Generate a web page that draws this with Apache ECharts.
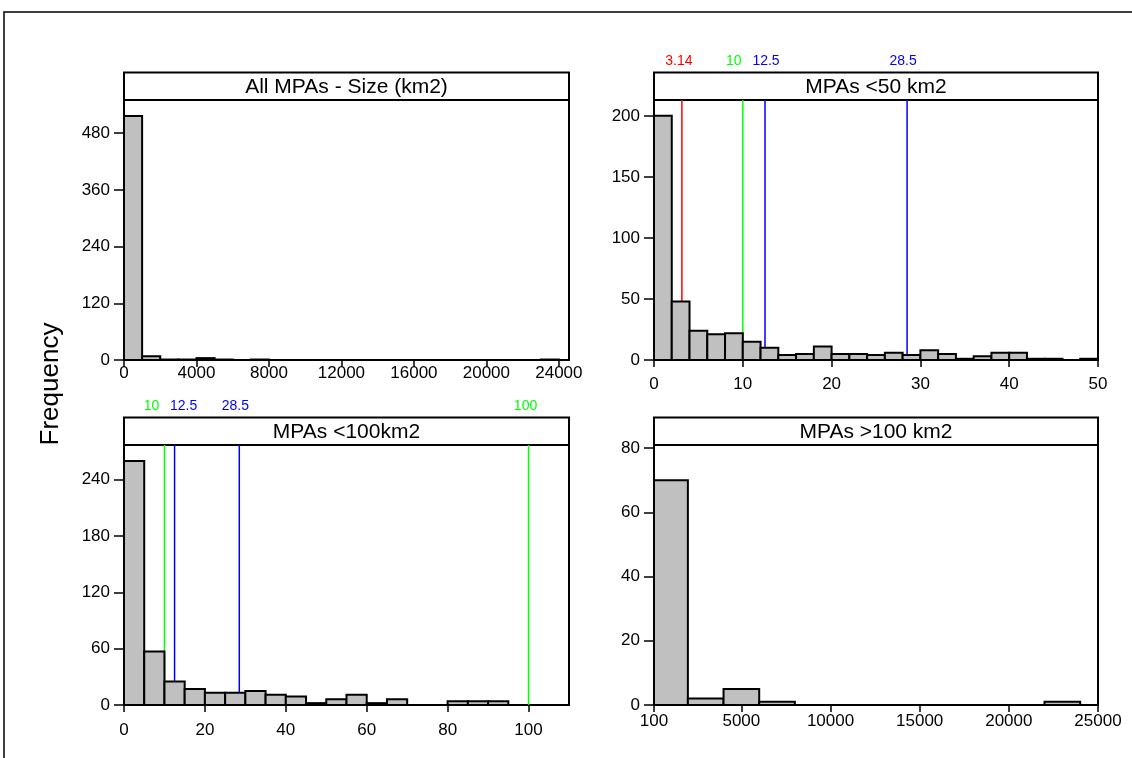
<!DOCTYPE html>
<html>
<head>
<meta charset="utf-8">
<title>MPA size histograms</title>
<script src="https://cdn.jsdelivr.net/npm/echarts@6/dist/echarts.min.js"></script>
<style>
  html, body { margin: 0; padding: 0; background: #fff; }
  #main { width: 1132px; height: 758px; }
</style>
</head>
<body>
<div id="main"></div>
<script>
// ---- data ----
// all MPAs, 1000 km2 bins starting at 0
var allBinWidth = 1000;
var allCounts = [516, 8, 1, 1, 4, 1, 0, 1, 0, 0, 0, 0, 0, 0, 0, 0, 0, 0, 0, 0, 0, 0, 0, 1];
// MPAs < 50 km2, 2 km2 bins
var sub50BinWidth = 2;
var sub50Counts = [200, 48, 24, 21, 22, 15, 10, 4, 5, 11, 5, 5, 4, 6, 4, 8, 5, 1, 3, 6, 6, 1, 1, 0, 1];
// MPAs < 100 km2, 5 km2 bins
var sub100BinWidth = 5;
var sub100Counts = [260, 57, 25, 17, 13, 13, 15, 11, 9, 2, 6, 11, 2, 6, 0, 0, 4, 4, 4];
// MPAs > 100 km2
var overEdges = [100, 2000, 4000, 6000, 8000, 10000, 12000, 14000, 16000, 18000, 20000, 22000, 24000];
var overCounts = [70, 2, 5, 1, 0, 0, 0, 0, 0, 0, 0, 1];

// reference lines
var sub50Lines = [3.14, 10, 12.5, 28.5];
var sub100Lines = [10, 12.5, 28.5, 100];

// tick labels
var allXTicks = [0, 4000, 8000, 12000, 16000, 20000, 24000];
var allYTicks = [0, 120, 240, 360, 480];
var sub50XTicks = [0, 10, 20, 30, 40, 50];
var sub50YTicks = [0, 50, 100, 150, 200];
var sub100XTicks = [0, 20, 40, 60, 80, 100];
var sub100YTicks = [0, 60, 120, 180, 240];
var overXTicks = [100, 5000, 10000, 15000, 20000, 25000];
var overYTicks = [0, 20, 40, 60, 80];

var titles = ['All MPAs - Size (km2)', 'MPAs <50 km2', 'MPAs <100km2', 'MPAs >100 km2'];

// ---- styling / layout ----
var RED = '#ff0000', GREEN = '#00ff00', BLUE = '#0000ff';
var sub50LineColors = [RED, GREEN, BLUE, BLUE];
var sub100LineColors = [GREEN, BLUE, BLUE, GREEN];
var sub50LabelShift = [-3, -9, 1, -4];
var sub100LabelShift = [-13, 9, -4, -3];
var FONT = '"Liberation Sans", Arial, Helvetica, sans-serif';
var stripH = 27.5;

var panels = [
  { left: 124, top: 100, width: 445, height: 260 },
  { left: 654, top: 100, width: 444, height: 260 },
  { left: 124, top: 445, width: 445, height: 260 },
  { left: 654, top: 445, width: 444, height: 260 }
];

function binsFromWidth(counts, w) {
  return counts.map(function (c, i) { return [i * w, (i + 1) * w, c]; });
}
function binsFromEdges(edges, counts) {
  return counts.map(function (c, i) { return [edges[i], edges[i + 1], c]; });
}

function renderBar(params, api) {
  var p0 = api.coord([api.value(0), 0]);
  var p1 = api.coord([api.value(1), api.value(2)]);
  return {
    type: 'rect',
    shape: { x: p0[0], y: p1[1], width: p1[0] - p0[0], height: p0[1] - p1[1] },
    style: { fill: '#c0c0c0', stroke: '#000', lineWidth: 2 }
  };
}

function lineRenderer(colors, shifts) {
  return function (params, api) {
    var x = api.coord([api.value(0), 0])[0];
    var cs = params.coordSys;
    var c = colors[params.dataIndex];
    return {
      type: 'group',
      children: [
        { type: 'line', shape: { x1: x, y1: cs.y, x2: x, y2: cs.y + cs.height },
          style: { stroke: c, lineWidth: 1.5 } },
        { type: 'text', x: x + shifts[params.dataIndex], y: cs.y - stripH - 11,
          style: { text: String(api.value(0)), fill: c, font: '14px ' + FONT,
                   align: 'center', verticalAlign: 'middle' } }
      ]
    };
  };
}

function xAxisOf(gi, min, max, ticks, margin) {
  return {
    type: 'value', gridIndex: gi, min: min, max: max,
    splitLine: { show: false }, axisLine: { show: false },
    axisTick: { show: true, inside: false, length: 7, customValues: ticks,
                lineStyle: { color: '#000', width: 1.5 } },
    axisLabel: { customValues: ticks, margin: margin, color: '#000', fontSize: 17,
                 fontFamily: FONT, formatter: function (v) { return String(v); } }
  };
}
function yAxisOf(gi, max, ticks) {
  return {
    type: 'value', gridIndex: gi, min: 0, max: max,
    splitLine: { show: false }, axisLine: { show: false },
    axisTick: { show: true, inside: false, length: 10, customValues: ticks,
                lineStyle: { color: '#000', width: 1.5 } },
    axisLabel: { customValues: ticks, margin: 14, color: '#000', fontSize: 17,
                 fontFamily: FONT, formatter: function (v) { return String(v); } }
  };
}

function barSeries(gi, data) {
  return {
    type: 'custom', xAxisIndex: gi, yAxisIndex: gi, z: 3, clip: false,
    dimensions: ['from', 'to', 'count'], encode: { x: [0, 1], y: 2 },
    renderItem: renderBar, data: data, silent: true
  };
}
function refSeries(gi, values, colors, shifts) {
  return {
    type: 'custom', xAxisIndex: gi, yAxisIndex: gi, z: 2, clip: false,
    encode: { x: 0, y: 1 },
    renderItem: lineRenderer(colors, shifts),
    data: values.map(function (v) { return [v, 0]; }), silent: true
  };
}

var graphics = [
  { type: 'polyline', shape: { points: [[4, 758], [4, 12], [1132, 12]] },
    style: { stroke: '#000', lineWidth: 1.5, fill: null } },
  { type: 'text', x: 51, y: 384, rotation: Math.PI / 2,
    style: { text: 'Frequency', font: '26px ' + FONT, fill: '#000',
             align: 'center', verticalAlign: 'middle' } }
];
panels.forEach(function (p, i) {
  graphics.push({ type: 'rect', shape: { x: p.left, y: p.top - stripH, width: p.width, height: stripH },
                  style: { fill: '#fff', stroke: '#000', lineWidth: 2 } });
  graphics.push({ type: 'text', x: p.left + p.width / 2, y: p.top - stripH / 2 + 1,
                  style: { text: titles[i], font: '21px ' + FONT, fill: '#000',
                           align: 'center', verticalAlign: 'middle' } });
});

var chart = echarts.init(document.getElementById('main'), null, { renderer: 'canvas' });
var option = {
  backgroundColor: '#fff',
  animation: false,
  grid: panels.map(function (p) {
    return { left: p.left, top: p.top, width: p.width, height: p.height, show: true,
             borderColor: '#000', borderWidth: 2, backgroundColor: 'transparent',
             outerBoundsMode: 'none', containLabel: false };
  }),
  xAxis: [
    xAxisOf(0, 0, 24560, allXTicks, 5),
    xAxisOf(1, 0, 50, sub50XTicks, 16),
    xAxisOf(2, 0, 110, sub100XTicks, 17),
    xAxisOf(3, 100, 25000, overXTicks, 8)
  ],
  yAxis: [
    yAxisOf(0, 550, allYTicks),
    yAxisOf(1, 213, sub50YTicks),
    yAxisOf(2, 277, sub100YTicks),
    yAxisOf(3, 81, overYTicks)
  ],
  series: [
    barSeries(0, binsFromWidth(allCounts, allBinWidth)),
    refSeries(1, sub50Lines, sub50LineColors, sub50LabelShift),
    barSeries(1, binsFromWidth(sub50Counts, sub50BinWidth)),
    refSeries(2, sub100Lines, sub100LineColors, sub100LabelShift),
    barSeries(2, binsFromWidth(sub100Counts, sub100BinWidth)),
    barSeries(3, binsFromEdges(overEdges, overCounts))
  ],
  graphic: graphics
};
chart.setOption(option);
</script>
</body>
</html>
